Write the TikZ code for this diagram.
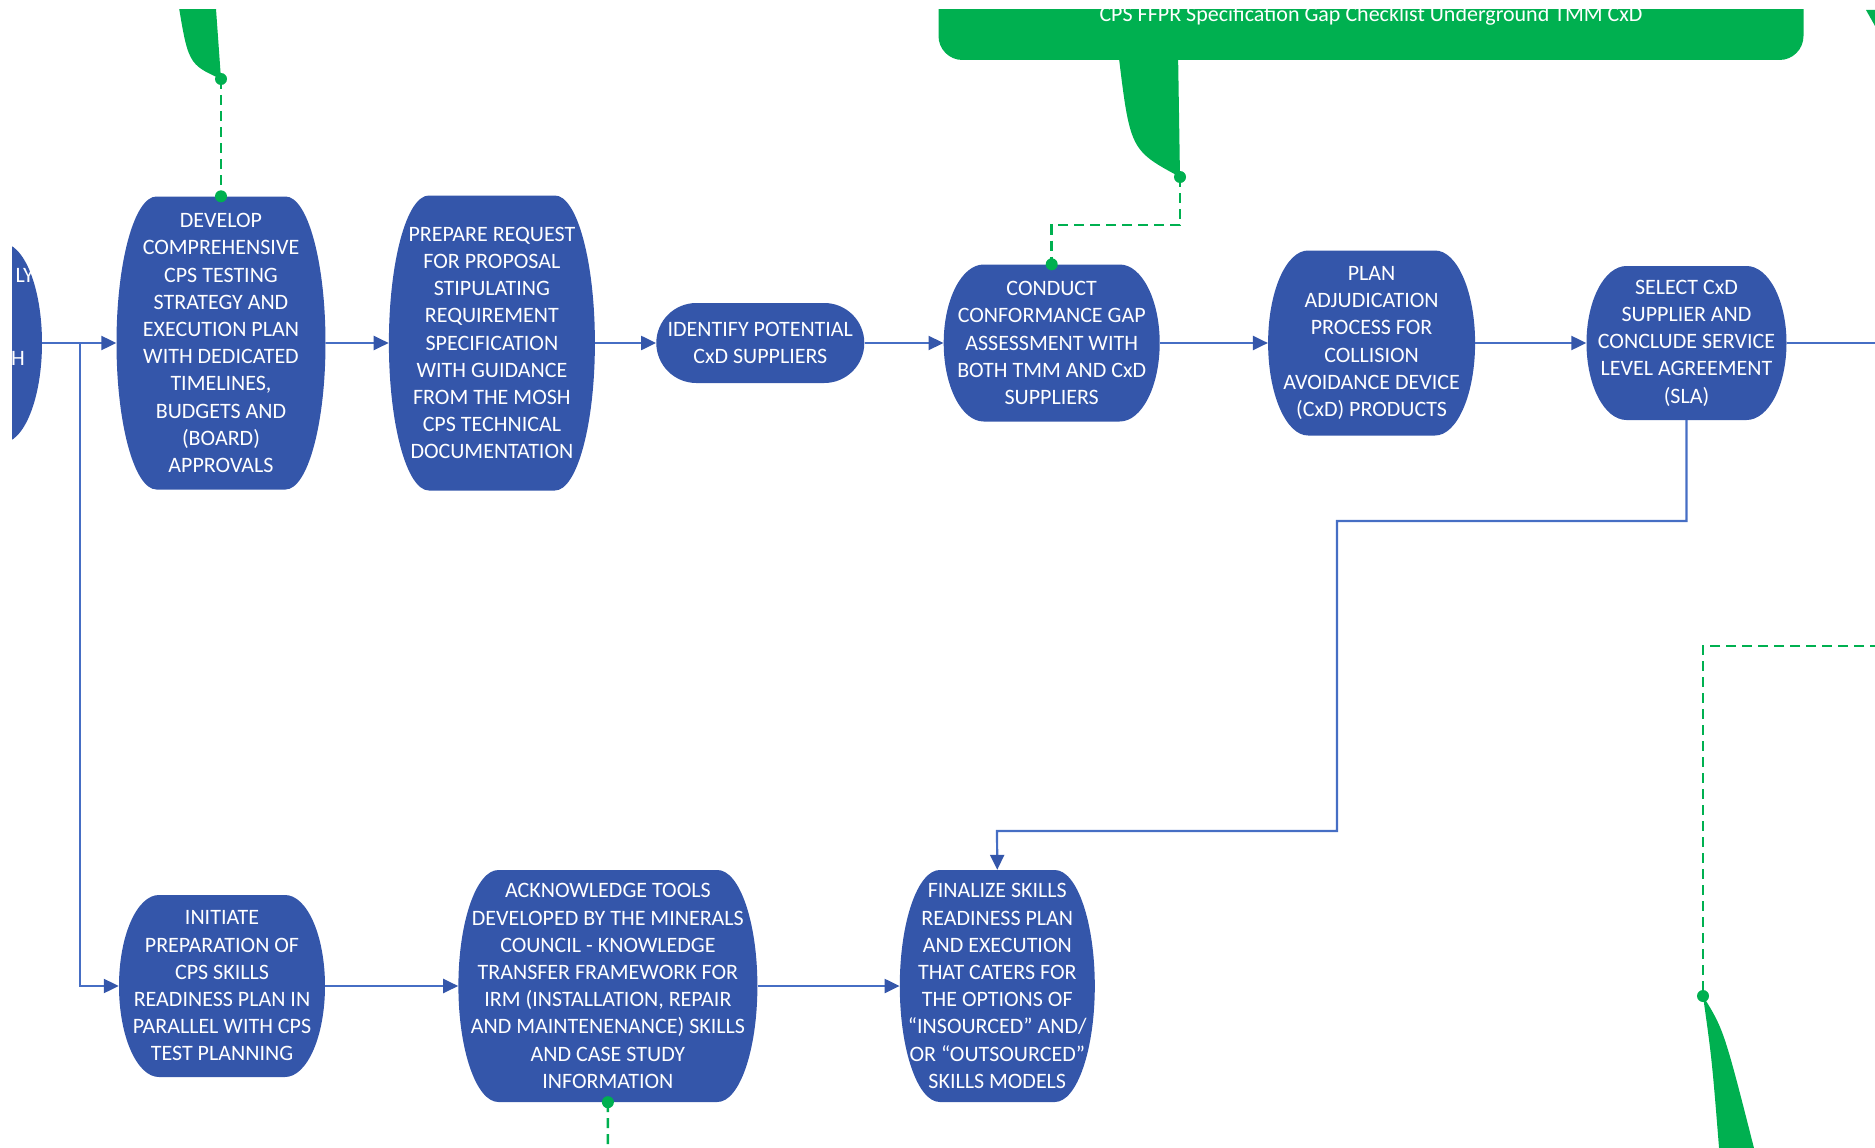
\documentclass[tikz,border=0pt]{standalone}
\usepackage{fontspec}
\setmainfont{Carlito}
\usetikzlibrary{positioning,calc,arrows.meta}

\definecolor{taskblue}{RGB}{52,86,170}
\definecolor{lineblue}{RGB}{70,110,196}
\definecolor{cpsgreen}{RGB}{0,176,80}
\newcommand{\boxfont}{\fontsize{22}{27.2}\selectfont}

\begin{document}
\begin{tikzpicture}[x=1pt, y=-1pt,
  task/.style 2 args={minimum width=#1, minimum height=#2, inner sep=0pt, align=center, text=white, font=\boxfont,
    path picture={\fill[taskblue] let \p1=(path picture bounding box.south west), \p2=(path picture bounding box.north east), \n1={(\y2-\y1)/2} in
      (\x1+40pt,\y2) -- (\x2-40pt,\y2) arc[start angle=90, end angle=-90, x radius=40pt, y radius=\n1]
      -- (\x1+40pt,\y1) arc[start angle=270, end angle=90, x radius=40pt, y radius=\n1] -- cycle;}},
  flow/.style={draw=lineblue, line width=2.2pt, -{Triangle[length=15pt, width=14pt, color=taskblue]}},
  feedback/.style={draw=cpsgreen, line width=2.5pt, dash pattern=on 10pt off 6pt},
  callout/.style={fill=cpsgreen, rounded corners=24pt}]
\useasboundingbox (0,0) rectangle (1875,1148);
\clip (12,10) rectangle (1875,1148);

% green notes
\node[callout, minimum width=865pt, minimum height=88pt, inner sep=0pt, font=\boxfont, text=white] (checklist) at (1371,16) {CPS FFPR Specification Gap Checklist Underground TMM CxD};
\fill[cpsgreen] (1118,50) .. controls (1130,150) .. (1180,177) -- (1178,50) -- cycle;
\fill[cpsgreen] (177,-5) .. controls (188,64) .. (221,79) -- (215,-5) -- cycle;
\fill[cpsgreen] (1703,996) .. controls (1712,1060) .. (1720,1160) -- (1757,1160) .. controls (1724,1030) .. (1703,996) -- cycle;
\fill[cpsgreen] (1866,10) -- (1875,10) -- (1875,26) -- cycle;
\coordinate (developNote) at (221,79);
\coordinate (checkNote) at (1180,177);
\coordinate (riskNote) at (1703,996);
\coordinate (rightEdge) at (1880,646);
\coordinate (pageEnd) at (608,1160);

% top row
\node[task={204pt}{200pt}] (start) at (-60,343) {};
\node[font=\boxfont, text=white, inner sep=0pt, anchor=east] (startA) at (34,275) {LY};
\node[font=\boxfont, text=white, inner sep=0pt, anchor=east] (startB) at (25,358) {H};
\node[task={209pt}{293pt}] (develop) at (221,343) {DEVELOP\\COMPREHENSIVE\\CPS TESTING\\STRATEGY AND\\EXECUTION PLAN\\WITH DEDICATED\\TIMELINES,\\BUDGETS AND\\(BOARD)\\APPROVALS};
\node[task={206pt}{295pt}, right=63pt of develop] (prepare) {PREPARE REQUEST\\FOR PROPOSAL\\STIPULATING\\REQUIREMENT\\SPECIFICATION\\WITH GUIDANCE\\FROM THE MOSH\\CPS TECHNICAL\\DOCUMENTATION};
\node[task={208pt}{80pt}, right=61pt of prepare] (identify) {IDENTIFY POTENTIAL\\CxD SUPPLIERS};
\node[task={216pt}{157pt}, right=79pt of identify] (conduct) {CONDUCT\\CONFORMANCE GAP\\ASSESSMENT WITH\\BOTH TMM AND CxD\\SUPPLIERS};
\node[task={207pt}{185pt}, right=108pt of conduct] (plan) {PLAN\\ADJUDICATION\\PROCESS FOR\\COLLISION\\AVOIDANCE DEVICE\\(CxD) PRODUCTS};
\node[task={200pt}{154pt}, right=111pt of plan] (select) {SELECT CxD\\SUPPLIER AND\\CONCLUDE SERVICE\\LEVEL AGREEMENT\\(SLA)};

% bottom row
\node[task={206pt}{182pt}] (initiate) at (222,986) {INITIATE\\PREPARATION OF\\CPS SKILLS\\READINESS PLAN IN\\PARALLEL WITH CPS\\TEST PLANNING};
\node[task={299pt}{232pt}, right=133pt of initiate] (acknowledge) {ACKNOWLEDGE TOOLS\\DEVELOPED BY THE MINERALS\\COUNCIL - KNOWLEDGE\\TRANSFER FRAMEWORK FOR\\IRM (INSTALLATION, REPAIR\\AND MAINTENENANCE) SKILLS\\AND CASE STUDY\\INFORMATION};
\node[task={195pt}{232pt}, right=142pt of acknowledge] (finalize) {FINALIZE SKILLS\\READINESS PLAN\\AND EXECUTION\\THAT CATERS FOR\\THE OPTIONS OF\\``INSOURCED'' AND/\\OR ``OUTSOURCED''\\SKILLS MODELS};

\coordinate (split) at (80,343);
\coordinate (exit) at (1880,343);
\coordinate (elbow1) at (1337,521);
\coordinate (elbow2) at (997,831);

% flow
\draw[flow] (start.east) -- (develop.west);
\draw[flow] (split) |- (initiate.west);
\draw[flow] (develop.east) -- (prepare.west);
\draw[flow] (prepare.east) -- (identify.west);
\draw[flow] (identify.east) -- (conduct.west);
\draw[flow] (conduct.east) -- (plan.west);
\draw[flow] (plan.east) -- (select.west);
\draw[lineblue, line width=2.2pt] (select.east) -- (exit);
\draw[flow] (initiate.east) -- (acknowledge.west);
\draw[flow] (acknowledge.east) -- (finalize.west);
\draw[flow] (select.south) |- (elbow1) |- (elbow2) -- (finalize.north);

% dashed links to notes
\draw[feedback] (developNote) -- (develop.north);
\draw[feedback] (checkNote) -- ++(0,48) -| (conduct.north);
\draw[feedback] (rightEdge) -| (riskNote);
\draw[feedback] (acknowledge.south) -- (pageEnd);
\foreach \p in {developNote, develop.north, checkNote, conduct.north, riskNote, acknowledge.south}
  \fill[cpsgreen] (\p) circle (6pt);
\end{tikzpicture}
\end{document}
